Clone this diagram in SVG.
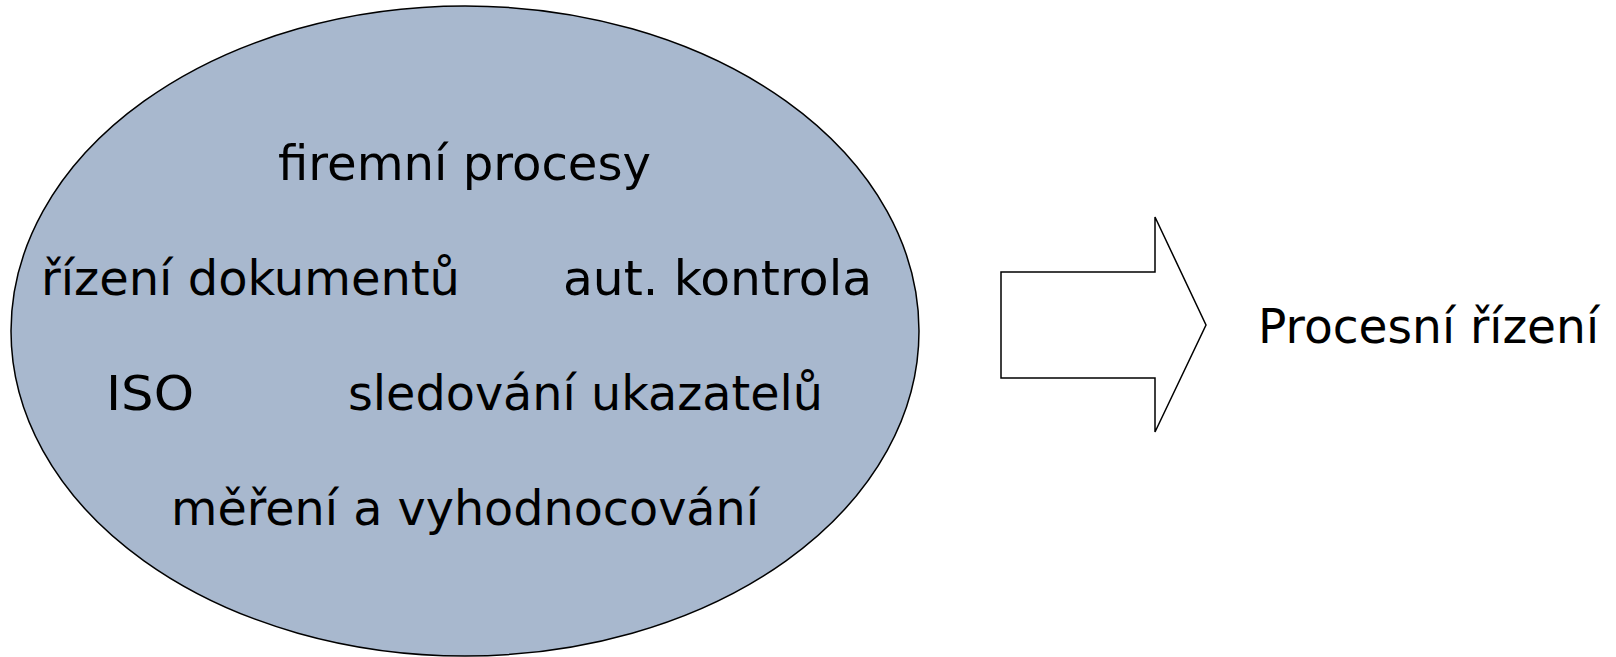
<svg xmlns="http://www.w3.org/2000/svg" width="1616" height="657" viewBox="0 0 1616 657">
<style>
.lbl{font-family:"DejaVu Sans","Noto Sans",sans-serif;font-size:48px;fill:#000}
</style>
<rect width="1616" height="657" fill="#fff"/>
<g id="ellipse">
<ellipse cx="465" cy="331" rx="454" ry="325" fill="#A8B8CE" stroke="#000" stroke-width="1.5"/>
<text class="lbl" x="278" y="180" textLength="373" lengthAdjust="spacingAndGlyphs">firemní procesy</text>
<text class="lbl" x="41" y="295" textLength="419" lengthAdjust="spacingAndGlyphs">řízení dokumentů</text>
<text class="lbl" x="563" y="295" textLength="309" lengthAdjust="spacingAndGlyphs">aut. kontrola</text>
<text class="lbl" x="106" y="410" textLength="88" lengthAdjust="spacingAndGlyphs">ISO</text>
<text class="lbl" x="348" y="410" textLength="475" lengthAdjust="spacingAndGlyphs">sledování ukazatelů</text>
<text class="lbl" x="171" y="525" textLength="588" lengthAdjust="spacingAndGlyphs">měření a vyhodnocování</text>
</g>
<g id="connectors">
<polygon id="arrow" points="1001,272 1155,272 1155,217 1206,325 1155,432 1155,378 1001,378" fill="#fff" stroke="#000" stroke-width="1.5"/>
</g>
<g id="result">
<text class="lbl" x="1258" y="343" textLength="341" lengthAdjust="spacingAndGlyphs">Procesní řízení</text>
</g>
</svg>
